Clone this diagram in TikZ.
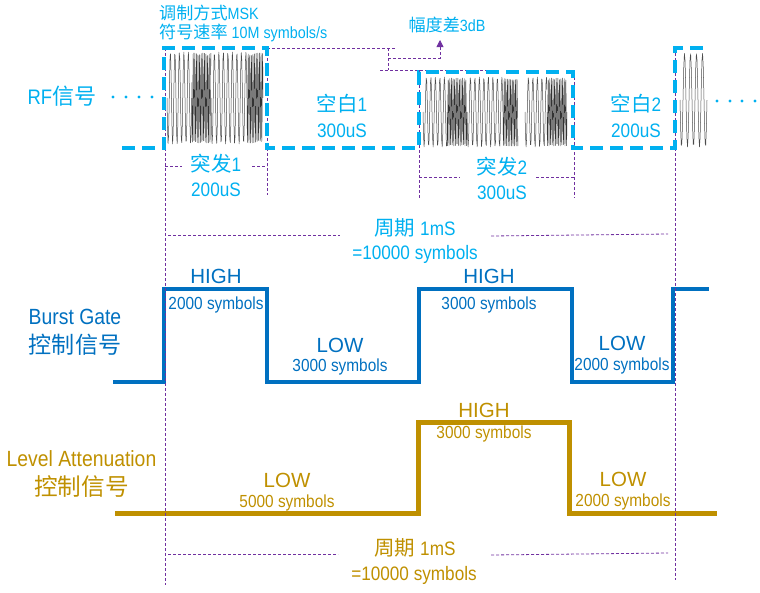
\documentclass[tikz,border=0pt]{standalone}
\usepackage{fontspec}
\setmainfont{Liberation Sans}[FakeStretch=0.88]
\newfontfamily\wide{Liberation Sans}
\newfontfamily\cjk{Noto Sans CJK SC}[Scale=1.05]
\usetikzlibrary{arrows.meta}
\definecolor{rfc}{HTML}{00B0F0}
\definecolor{bgc}{HTML}{0070C0}
\definecolor{lac}{HTML}{BF9000}
\definecolor{pur}{HTML}{7030A0}
\newcommand\fs[1]{\fontsize{#1}{#1}\selectfont}
\newcommand\zh[1]{{\cjk #1}}
% \wv{from}{to}{period}{centre}{amplitude}{samples}{style}
\newcommand\wv[7]{\draw[#7] plot[domain=#1:#2, samples=#6] (\x,{#4+#5*sin(360*(\x-#1)/#3)});}
\begin{document}
\begin{tikzpicture}[x=1pt,y=-1pt,
  lbl/.style={inner sep=0pt, anchor=base},
  wave/.style={line width=0.5pt, black!70, line join=round},
  dense/.style={line width=0.4pt, black!80, line join=round},
  pdash/.style={pur, line width=0.8pt, dash pattern=on 3pt off 2pt},
  rfline/.style={rfc, line width=4pt, dash pattern=on 13pt off 7pt},
  bgline/.style={bgc, line width=4.5pt},
  laline/.style={lac, line width=5pt},
  dotc/.style={circle, fill=rfc, inner sep=0pt, minimum size=3.4pt},
  big/.style={font=\fs{22}},
  mid/.style={font=\fs{19.5}},
  small/.style={font=\fs{17.5}},
  top/.style={font=\fs{16.3}},
  hl/.style={font=\wide\fs{20.5}},
]
\useasboundingbox (0,0) rectangle (760,592);

% ---------- RF waveforms ----------
\wv{167}{192}{4.5}{98}{46}{50}{wave}
\wv{192}{211}{1.6}{98}{45}{110}{dense}
\wv{211}{247}{4.5}{98}{46}{70}{wave}
\wv{247}{263}{1.6}{98}{45}{90}{dense}

\wv{423}{447}{4.5}{112}{35}{46}{wave}
\wv{447}{467}{1.6}{112}{34}{110}{dense}
\wv{467}{503}{4.5}{112}{35}{68}{wave}
\wv{503}{518}{1.6}{112}{34}{85}{dense}
\wv{525}{547}{4.5}{112}{35}{42}{wave}
\wv{547}{567}{1.6}{112}{34}{110}{dense}

\wv{680}{707}{6}{100}{47}{44}{wave}

% ---------- control signals ----------
\draw[bgline] (113,382) -- (164,382) -- (164,289) -- (267,289) -- (267,382)
  -- (419,382) -- (419,289) -- (572,289) -- (572,382) -- (673,382) -- (673,289) -- (709,289);
\draw[laline] (115,513) -- (418,513) -- (418,422) -- (569,422) -- (569,513) -- (717,513);

% ---------- purple guide lines ----------
\draw[pdash] (165,48) -- (165,585);
\draw[pdash] (267,48) -- (267,195);
\draw[pdash] (419,70) -- (419,198);
\draw[pdash] (574,72) -- (574,198);
\draw[pdash] (675,48) -- (675,580);
\draw[pdash] (267,48) -- (395,48);
\draw[pdash] (388,48) -- (388,70);
\draw[pdash] (380,70) -- (490,70);
\draw[pdash,-{Triangle[width=7pt,length=7pt]}] (388,58) -- (440,58) -- (440,40);

\draw[pdash] (165,166) -- (182,166);
\draw[pdash] (252,166) -- (267,166);
\draw[pdash] (419,177) -- (460,177);
\draw[pdash] (536,177) -- (574,177);
\draw[pdash] (168,235) -- (340,235);
\draw[pdash] (491,236) -- (668,234);
\draw[pdash] (168,554) -- (338,554);
\draw[pdash] (491,555) -- (668,553);

% ---------- RF envelope ----------
\draw[rfline] (122,148) -- (164,148) -- (164,48) -- (267,48) -- (267,148)
  -- (419,148) -- (419,72) -- (573,72) -- (573,148) -- (675,148) -- (675,48) -- (710,48);

\foreach \i/\xx in {1/113,2/126,3/139,4/152} \node[dotc] (dl\i) at (\xx,97) {};
\foreach \i/\xx in {1/717,2/730,3/742,4/755} \node[dotc] (dr\i) at (\xx,101) {};

% ---------- RF texts ----------
\begin{scope}[text=rfc]
\node[lbl, anchor=base west, top] (mod) at (159,19) {\zh{调制方式}MSK};
\node[lbl, anchor=base west, top] (rate) at (159,38) {\zh{符号速率} 10M symbols/s};
\node[lbl, top] (amp) at (447,31) {\zh{幅度差}3dB};
\node[lbl, font=\fs{21}] (rf) at (62,104) {RF\zh{信号}};
\node[lbl, mid] (g1a) at (342,111) {\zh{空白}1};
\node[lbl, mid] (g1b) at (342,137) {300uS};
\node[lbl, mid] (b1a) at (216,171) {\zh{突发}1};
\node[lbl, mid] (b1b) at (216,196) {200uS};
\node[lbl, mid] (b2a) at (502,174) {\zh{突发}2};
\node[lbl, mid] (b2b) at (502,199) {300uS};
\node[lbl, mid] (g2a) at (636,111) {\zh{空白}2};
\node[lbl, mid] (g2b) at (636,137) {200uS};
\node[lbl, mid] (p1a) at (415,235) {\zh{周期} 1mS};
\node[lbl, mid] (p1b) at (415,259) {=10000 symbols};
\end{scope}

% ---------- Burst Gate texts ----------
\begin{scope}[text=bgc]
\node[lbl, big] (bg1) at (75,324) {Burst Gate};
\node[lbl, big] (bg2) at (75,353) {\zh{控制信号}};
\node[lbl, hl] (h1) at (216,283) {HIGH};
\node[lbl, small] (h1s) at (216,309) {2000 symbols};
\node[lbl, hl] (l1) at (340,352) {LOW};
\node[lbl, small] (l1s) at (340,371) {3000 symbols};
\node[lbl, hl] (h2) at (489,283) {HIGH};
\node[lbl, small] (h2s) at (489,309) {3000 symbols};
\node[lbl, hl] (l2) at (622,350) {LOW};
\node[lbl, small] (l2s) at (622,370) {2000 symbols};
\end{scope}

% ---------- Level Attenuation texts ----------
\begin{scope}[text=lac]
\node[lbl, big] (la1) at (81.5,466) {Level Attenuation};
\node[lbl, font=\fs{22.5}] (la2) at (81.5,495) {\zh{控制信号}};
\node[lbl, hl] (ll1) at (287,487) {LOW};
\node[lbl, small] (ll1s) at (287,507) {5000 symbols};
\node[lbl, hl] (lh) at (484,417) {HIGH};
\node[lbl, small] (lhs) at (484,438) {3000 symbols};
\node[lbl, hl] (ll2) at (623,486) {LOW};
\node[lbl, small] (ll2s) at (623,506) {2000 symbols};
\node[lbl, mid] (p2a) at (415,555) {\zh{周期} 1mS};
\node[lbl, mid] (p2b) at (414,580) {=10000 symbols};
\end{scope}
\end{tikzpicture}
\end{document}
